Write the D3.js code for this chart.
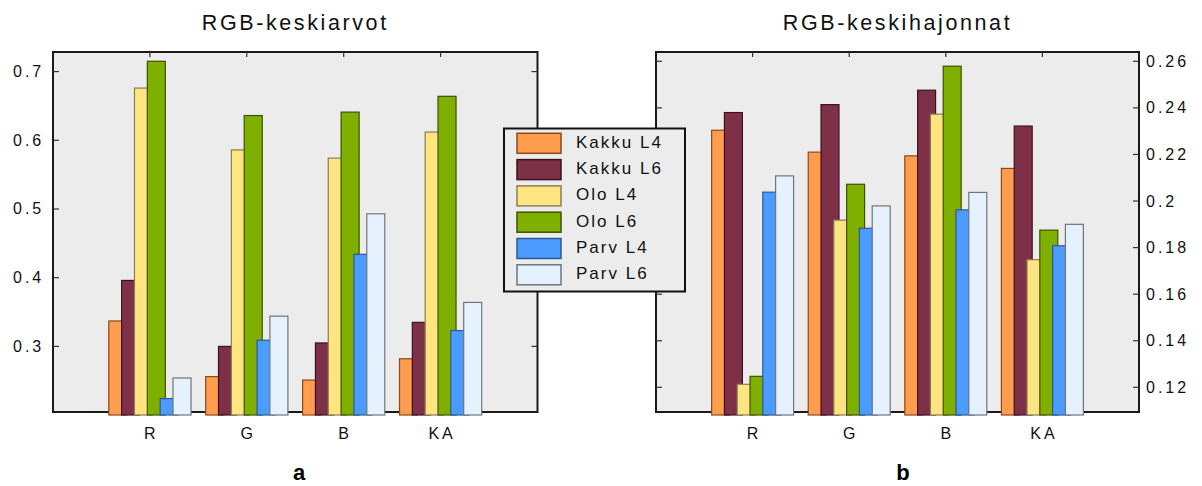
<!DOCTYPE html>
<html><head><meta charset="utf-8">
<script src="https://cdn.jsdelivr.net/npm/d3@7"></script>
<style>
html,body{margin:0;padding:0;background:#fff;}
svg{display:block;font-family:"Liberation Sans",Arial,sans-serif;}
</style></head>
<body>
<svg id="chart" width="1202" height="486"></svg>
<script>
const categories = ["R","G","B","KA"];
const seriesNames = ["Kakku L4","Kakku L6","Olo L4","Olo L6","Parv L4","Parv L6"];
const seriesColors = ["#FF9C4E","#7F3049","#FFE482","#7FB000","#4C9BFF","#E5F1FF"];
const seriesStroke = ["#8a4a1a","#3a1222","#8a7e50","#3c5200","#2c5a95","#6e747a"];
// RGB-keskiarvot (means), per series, for R, G, B, KA
const meanKakkuL4 = [0.337,0.256,0.251,0.282];
const meanKakkuL6 = [0.396,0.300,0.305,0.335];
const meanOloL4   = [0.676,0.586,0.574,0.612];
const meanOloL6   = [0.715,0.636,0.641,0.664];
const meanParvL4  = [0.224,0.309,0.434,0.323];
const meanParvL6  = [0.254,0.344,0.493,0.364];
// RGB-keskihajonnat (std devs)
const sdKakkuL4 = [0.2304,0.2210,0.2194,0.2140];
const sdKakkuL6 = [0.2380,0.2414,0.2476,0.2322];
const sdOloL4   = [0.1213,0.1918,0.2373,0.1748];
const sdOloL6   = [0.1247,0.2072,0.2579,0.1875];
const sdParvL4  = [0.2038,0.1883,0.1962,0.1808];
const sdParvL6  = [0.2108,0.1979,0.2037,0.1900];
const leftTicks = [0.3,0.4,0.5,0.6,0.7];
const rightTicks = [0.12,0.14,0.16,0.18,0.20,0.22,0.24,0.26];
const leftTitle = "RGB-keskiarvot", rightTitle = "RGB-keskihajonnat";

const meanSeries = [meanKakkuL4,meanKakkuL6,meanOloL4,meanOloL6,meanParvL4,meanParvL6];
const sdSeries = [sdKakkuL4,sdKakkuL6,sdOloL4,sdOloL6,sdParvL4,sdParvL6];

const svg = d3.select("#chart");
const fmt = v => String(+v.toFixed(2));

function panel(opt){
  const g = svg.append("g");
  const x = d3.scaleLinear().domain([0,5]).range([opt.x0,opt.x1]);
  const y = d3.scaleLinear().domain(opt.ydom).range([412,52]);
  const left = x(0), right = x(5), top = 52, bottom = 412;
  g.append("rect").attr("x",left).attr("y",top).attr("width",right-left).attr("height",bottom-top)
    .attr("fill","#ECECEC");
  g.append("rect").attr("x",left).attr("y",top).attr("width",right-left).attr("height",bottom-top)
    .attr("fill","none").attr("stroke","#1a1a1a").attr("stroke-width",2);
  opt.ticks.forEach(t=>{
    g.append("line").attr("x1",left).attr("x2",left+6).attr("y1",y(t)).attr("y2",y(t)).attr("stroke","#333").attr("stroke-width",1.2);
    g.append("line").attr("x1",right-6).attr("x2",right).attr("y1",y(t)).attr("y2",y(t)).attr("stroke","#333").attr("stroke-width",1.2);
  });
  categories.forEach((c,i)=>{
    g.append("line").attr("x1",x(i+1)).attr("x2",x(i+1)).attr("y1",top).attr("y2",top+5).attr("stroke","#333").attr("stroke-width",1.2);
  });
  const s = 0.1325, w = 0.186;
  const half = (5*s+w)/2;
  opt.data.forEach((vals,si)=>{
    g.selectAll(null).data(vals).enter().append("rect")
      .attr("x",(d,i)=>x(i+1-half+si*s))
      .attr("width",x(w)-x(0))
      .attr("y",d=>y(d))
      .attr("height",d=>bottom+3-y(d))
      .attr("fill",seriesColors[si])
      .attr("stroke",seriesStroke[si]).attr("stroke-width",1.2);
  });
  opt.ticks.forEach(t=>{
    g.append("text").attr("x",opt.labelX).attr("y",y(t)+5.5)
      .attr("font-size",16).attr("letter-spacing","3px").attr("fill","#111")
      .text(fmt(t));
  });
  categories.forEach((c,i)=>{
    g.append("text").attr("x",x(i+1)+1.5).attr("y",438.5).attr("text-anchor","middle")
      .attr("font-size",16).attr("letter-spacing","3px").attr("fill","#111").text(c);
  });
  g.append("text").attr("x",(left+right)/2).attr("y",30).attr("text-anchor","middle")
    .attr("font-size",21.5).attr("letter-spacing","2.6px").attr("fill","#111").text(opt.title);
  g.append("text").attr("x",opt.letterX).attr("y",480).attr("text-anchor","middle")
    .attr("font-size",22).attr("font-weight","bold").attr("fill","#000").text(opt.letter);
}

panel({x0:53,x1:537.5,ydom:[0.2045,0.7285],ticks:leftTicks,data:meanSeries,labelX:13,title:leftTitle,letter:"a",letterX:299});
panel({x0:656,x1:1139,ydom:[0.1094,0.264],ticks:rightTicks,data:sdSeries,labelX:1146,title:rightTitle,letter:"b",letterX:903});

const lg = svg.append("g");
lg.append("rect").attr("x",504).attr("y",128.5).attr("width",181).attr("height",163)
  .attr("fill","#ECECEC").attr("stroke","#111").attr("stroke-width",2);
const ly = d3.scaleBand().domain(seriesNames).range([133.3,133.3+26.3*6]);
seriesNames.forEach((n,i)=>{
  lg.append("rect").attr("x",517).attr("y",ly(n)).attr("width",44).attr("height",20)
    .attr("fill",seriesColors[i]).attr("stroke",seriesStroke[i]).attr("stroke-width",1.5);
  lg.append("text").attr("x",576).attr("y",ly(n)+14.5).attr("font-size",17)
    .attr("letter-spacing","2px").attr("fill","#111").text(n);
});
</script>
</body></html>
